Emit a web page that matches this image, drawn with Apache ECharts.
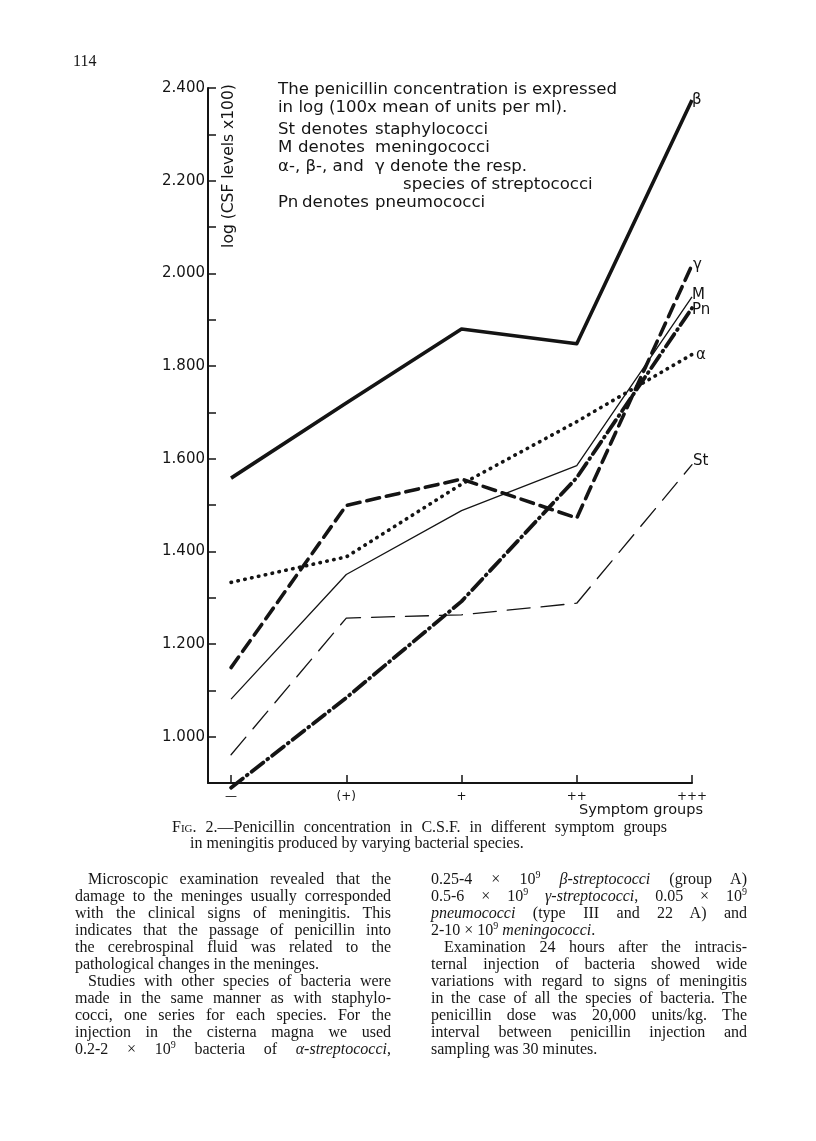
<!DOCTYPE html>
<html>

<head>
    <meta charset="utf-8">
    <title>Penicillin in C.S.F.</title>
    <script src="https://cdn.jsdelivr.net/npm/echarts@6/dist/echarts.min.js"></script>
    <style>
        body { margin: 0; background: #fff; }
        #chart { position: absolute; left: 0; top: 0; width: 816px; height: 1141px; }
        .txt { position: absolute; font-family: "Liberation Serif", serif; color: #161616; }
        .col { width: 316px; font-size: 16px; line-height: 17px; }
        .col div { height: 17px; text-align: justify; text-align-last: justify; white-space: nowrap; }
        .col div.last { text-align-last: left; }
        .col div.ind { padding-left: 13px; }
        .cap { font-size: 16px; line-height: 16px; }
    </style>
</head>

<body>
    <div id="chart"></div>

    <div class="txt" style="left: 73px; top: 52px; font-size: 16px;">114</div>

    <div class="txt cap" style="left: 172px; top: 819px;">
        <div style="width: 495px; text-align: justify; text-align-last: justify; white-space: nowrap;"><span style="font-variant: small-caps;">Fig.</span> 2.—Penicillin concentration in C.S.F. in different symptom groups</div>
        <div style="padding-left: 18px;">in meningitis produced by varying bacterial species.</div>
    </div>

    <div class="txt col" style="left: 75px; top: 870px;">
        <div class="ind">Microscopic examination revealed that the</div>
        <div>damage to the meninges usually corresponded</div>
        <div>with the clinical signs of meningitis. This</div>
        <div>indicates that the passage of penicillin into</div>
        <div>the cerebrospinal fluid was related to the</div>
        <div class="last">pathological changes in the meninges.</div>
        <div class="ind">Studies with other species of bacteria were</div>
        <div>made in the same manner as with staphylo-</div>
        <div>cocci, one series for each species. For the</div>
        <div>injection in the cisterna magna we used</div>
        <div>0.2-2 &times; 10<sup style="font-size:10px; line-height:0;">9</sup> bacteria of <i>&alpha;-streptococci</i>,</div>
    </div>

    <div class="txt col" style="left: 431px; top: 870px;">
        <div>0.25-4 &times; 10<sup style="font-size:10px; line-height:0;">9</sup> <i>&beta;-streptococci</i> (group A)</div>
        <div>0.5-6 &times; 10<sup style="font-size:10px; line-height:0;">9</sup> <i>&gamma;-streptococci</i>, 0.05 &times; 10<sup style="font-size:10px; line-height:0;">9</sup></div>
        <div><i>pneumococci</i> (type III and 22 A) and</div>
        <div class="last">2-10 &times; 10<sup style="font-size:10px; line-height:0;">9</sup> <i>meningococci</i>.</div>
        <div class="ind">Examination 24 hours after the intracis-</div>
        <div>ternal injection of bacteria showed wide</div>
        <div>variations with regard to signs of meningitis</div>
        <div>in the case of all the species of bacteria. The</div>
        <div>penicillin dose was 20,000 units/kg. The</div>
        <div>interval between penicillin injection and</div>
        <div class="last">sampling was 30 minutes.</div>
    </div>

    <script type="text/javascript">
        // symptom groups along the x axis
        var groups = ['\u2014', '(+)', '+', '++', '+++'];

        // log(100 x mean units per ml)
        var beta = [1.558, 1.720, 1.880, 1.848, 2.374];
        var gamma = [1.149, 1.499, 1.556, 1.472, 2.018];
        var mening = [1.081, 1.350, 1.488, 1.585, 1.949];
        var pneumo = [0.890, 1.084, 1.292, 1.559, 1.925];
        var alpha = [1.333, 1.388, 1.545, 1.680, 1.825];
        var staph = [0.961, 1.256, 1.263, 1.288, 1.587];

        var seriesNames = ['\u03b2', '\u03b3', 'M', 'Pn', '\u03b1', 'St'];

        var notes = [
            'The penicillin concentration is expressed',
            'in log (100x mean of units per ml).'
        ];

        var INK = '#141414';
        var SANS = '"DejaVu Sans", sans-serif';

        function pts(vals) {
            return vals.map(function (v, i) { return [i, v]; });
        }

        function mkLine(name, vals, width, dash, lbl) {
            return {
                name: name,
                type: 'line',
                data: pts(vals),
                symbol: 'none',
                clip: false,
                lineStyle: { color: INK, width: width, type: dash, cap: dash === 'solid' ? 'butt' : 'round', join: 'round' },
                endLabel: {
                    show: true,
                    formatter: name,
                    color: INK,
                    fontFamily: SANS,
                    fontSize: 15,
                    offset: lbl
                }
            };
        }

        function noteText(str, x, y) {
            return {
                type: 'text', x: x, y: y,
                style: { text: str, fill: INK, fontFamily: SANS, fontSize: 16.6, verticalAlign: 'middle' }
            };
        }

        var graphics = [
            noteText(notes[0], 278, 90),
            noteText(notes[1], 278, 108),
            noteText('St', 278, 130), noteText('denotes', 301, 130), noteText('staphylococci', 375, 130),
            noteText('M', 278, 148), noteText('denotes', 298, 148), noteText('meningococci', 375, 148),
            noteText('\u03b1-, \u03b2-, and', 278, 167), noteText('\u03b3 denote the resp.', 375, 167),
            noteText('species of streptococci', 403, 185),
            noteText('Pn', 278, 203), noteText('denotes', 302, 203), noteText('pneumococci', 375, 203),
            {
                type: 'text', x: 229, y: 166, rotation: Math.PI / 2,
                style: { text: 'log (CSF levels x100)', fill: INK, fontFamily: SANS, fontSize: 15.5, align: 'center', verticalAlign: 'middle' }
            },
            {
                type: 'text', x: 703, y: 810,
                style: { text: 'Symptom groups', fill: INK, fontFamily: SANS, fontSize: 14.5, align: 'right', verticalAlign: 'middle' }
            }
        ];

        var myChart = echarts.init(document.getElementById('chart'), null, { renderer: 'canvas' });

        myChart.setOption({
            animation: false,
            backgroundColor: '#fff',
            grid: { left: 208, top: 88, width: 484, height: 695 },
            xAxis: {
                type: 'value',
                min: -0.2,
                max: 4,
                axisLine: { lineStyle: { color: INK, width: 2 } },
                axisTick: { show: true, inside: true, length: 8, lineStyle: { color: INK, width: 1.5 }, customValues: [0, 1, 2, 3, 4] },
                axisLabel: {
                    customValues: [0, 1, 2, 3, 4],
                    formatter: function (v) { return groups[Math.round(v)]; },
                    color: INK, fontFamily: SANS, fontSize: 12, margin: 8
                },
                splitLine: { show: false }
            },
            yAxis: {
                type: 'value',
                min: 0.9,
                max: 2.4,
                interval: 0.1,
                axisLine: { show: true, onZero: false, lineStyle: { color: INK, width: 2 } },
                axisTick: { show: true, inside: true, length: 8, lineStyle: { color: INK, width: 1.5 } },
                axisLabel: {
                    formatter: function (v) {
                        var k = Math.round(v * 10);
                        return (k % 2 === 0 && k >= 10) ? (k / 10).toFixed(3) : '';
                    },
                    color: INK, fontFamily: SANS, fontSize: 15, margin: 3
                },
                splitLine: { show: false }
            },
            series: [
                mkLine(seriesNames[0], beta, 3.6, 'solid', [-8, 0]),
                mkLine(seriesNames[1], gamma, 3.6, [13, 7], [-7, 0]),
                mkLine(seriesNames[2], mening, 1.3, 'solid', [-8, -2]),
                mkLine(seriesNames[3], pneumo, 3.8, [15, 5, 1, 5], [-8, 2]),
                mkLine(seriesNames[4], alpha, 3.6, [0.5, 6.5], [-4, 1]),
                mkLine(seriesNames[5], staph, 1.3, [23, 11], [-7, -4])
            ],
            graphic: graphics
        });
    </script>
</body>

</html>
